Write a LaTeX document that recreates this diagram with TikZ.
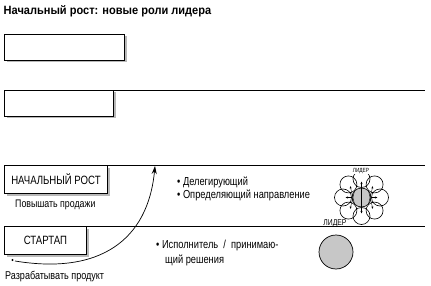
\documentclass[tikz,border=0pt]{standalone}
\usepackage{fontspec}
\setmainfont{Liberation Sans}[FakeStretch=0.8]
\newfontfamily\titlefont{Liberation Sans}[FakeStretch=0.92]
\usetikzlibrary{arrows.meta,calc}
\definecolor{shadowgray}{gray}{0.72}
\definecolor{leadergray}{gray}{0.78}
\tikzset{
  stagebox/.style={draw, line width=0.9pt, fill=white, inner sep=0pt},
  sep/.style={line width=0.9pt},
  body/.style={font=\fontsize{11}{13}\selectfont, inner sep=0pt, anchor=west},
  bullet/.style={font=\fontsize{11.6}{13}\selectfont, inner sep=0pt, anchor=west},
  tiny/.style={font=\fontsize{6}{6}\selectfont, inner sep=0pt},
  small/.style={font=\fontsize{8.5}{8.5}\selectfont, inner sep=0pt}
}
\begin{document}
\begin{tikzpicture}[x=1pt,y=-1pt]
\useasboundingbox (0,0) rectangle (431,286);
% title
\node[anchor=base west, inner sep=0pt, font=\titlefont\bfseries\fontsize{12}{14}\selectfont] (title) at (3.5,14.7) {Начальный рост: новые роли лидера};

% box 1
\fill[shadowgray] (6.5,36.5) rectangle (126.5,62.5);
\node[stagebox, minimum width=120pt, minimum height=26pt, anchor=north west] (b1) at (4,34) {};
% box 2
\fill[shadowgray] (6.5,92.5) rectangle (115.5,118.5);
\node[stagebox, minimum width=109pt, minimum height=26pt, anchor=north west] (b2) at (4,90) {};
\coordinate (e2) at (425,90);
\draw[sep] (b2.north east) -- (e2);
% box 3
\fill[shadowgray] (6.5,167.5) rectangle (109.5,195.5);
\node[stagebox, minimum width=103pt, minimum height=28pt, anchor=north west] (b3) at (4,165) {};
\node (t3) at (b3.center) {\fontsize{12}{14}\selectfont НАЧАЛЬНЫЙ РОСТ};
\coordinate (e3) at (425,165);
\draw[sep] (b3.north east) -- (e3);
% box 4
\fill[shadowgray] (6.5,228.5) rectangle (88.5,256.5);
\node[stagebox, minimum width=82pt, minimum height=28pt, anchor=north west] (b4) at (4,226) {};
\node (t4) at (b4.center) {\fontsize{12}{14}\selectfont СТАРТАП};

% captions
\node[body] (c3) at (15,205) {Повышать продажи};
\node[body, font=\fontsize{11.3}{13}\selectfont] (c4) at (5,277) {Разрабатывать продукт};

% bullets
\node[bullet] (d1) at (177,182) {\textbullet\ Делегирующий};
\node[bullet] (d2) at (177,195.5) {\textbullet\ Определяющий направление};
\node[bullet] (d3) at (156,245) {\textbullet\ Исполнитель \ / \ принимаю-};
\node[bullet] (d4) at (165,260) {щий решения};

% large leader
\node[small] (l1) at (335,223.5) {ЛИДЕР};
\node[circle, draw, line width=0.7pt, fill=leadergray, minimum size=34pt, inner sep=0pt] (L) at (336,252) {};
\coordinate (e4) at (425,226);
\draw[sep] (b4.north east) -- (e4);

% cluster leader
\foreach \a in {0,45,...,315} {
  \node[circle, draw, line width=0.6pt, minimum size=17pt, inner sep=0pt] (s\a) at ($(361.5,197.5)+(\a:18.5)$) {};
}
\node[circle, draw, line width=0.6pt, fill=leadergray, minimum size=19pt, inner sep=0pt] (C) at (361.5,197.5) {};
\foreach \a in {0,45,...,315} {
  \draw[line width=0.4pt, -{Stealth[length=2.5pt,width=2pt]}] (C.\a) -- ($(C)+(\a:16)$);
}
\node[tiny, fill=white, inner sep=0.3pt] (l2) at (361,171) {ЛИДЕР};

% growth arrow
\coordinate (start) at (15,261);
\coordinate (goal) at (155,166);
\fill (12.5,260) circle (1.1pt);
\draw[line width=0.7pt, -{Stealth[length=8pt,width=5pt]}] (start) .. controls (100,275) and (148,240) .. (goal);
\end{tikzpicture}
\end{document}
